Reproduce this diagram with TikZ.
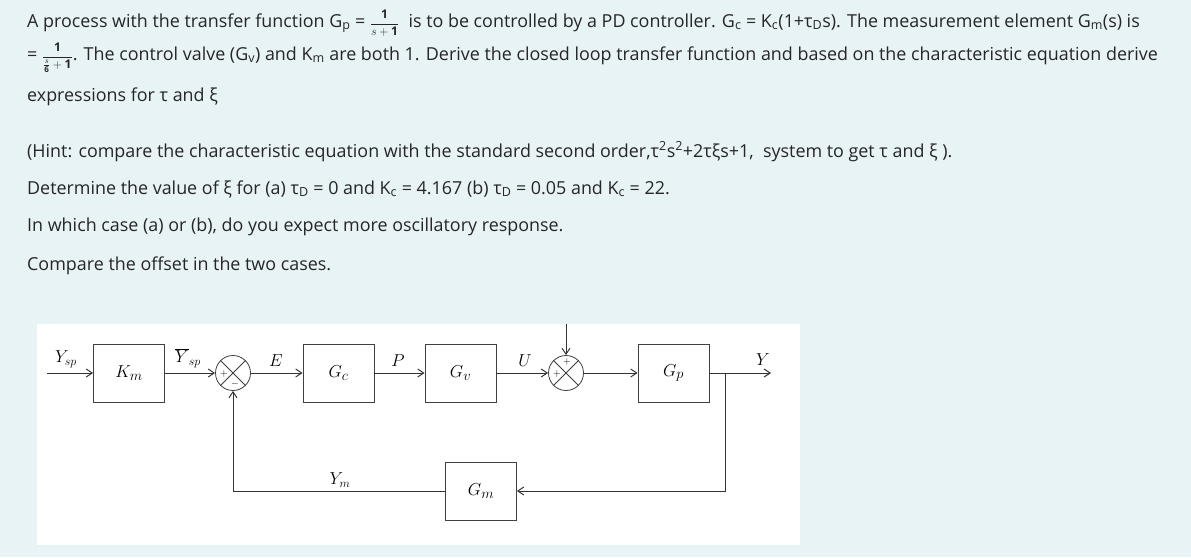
\documentclass[tikz,border=0pt]{standalone}
\usepackage{fontspec}
\setmainfont{Open Sans}
\usetikzlibrary{arrows.meta}
\newcommand{\sbs}[1]{\textsubscript{#1}}
\newcommand{\myfr}[2]{{\fontsize{12}{12}\selectfont$\displaystyle\frac{#1}{#2}$}}
\begin{document}
\begin{tikzpicture}[x=1pt,y=-1pt,
  txt/.style={anchor=base west,inner sep=0,font=\fontsize{17.9}{21}\selectfont,text=black!85},
  blk/.style={draw=black!75,line width=0.8pt,minimum width=71pt,minimum height=58pt,inner sep=0,font=\fontsize{19}{19}\selectfont},
  sumc/.style={draw=black!75,line width=0.8pt,circle,minimum size=35pt,inner sep=0},
  sig/.style={draw=black!80,line width=1pt,-{Straight Barb[length=6pt,width=8pt]}},
  lab/.style={font=\fontsize{18}{18}\selectfont,inner sep=0}]
\fill[fill={rgb,255:red,232;green,243;blue,246}] (0,0) rectangle (1191,557);
\useasboundingbox (0,0) rectangle (1191,557);
\node[txt] (l1) at (27,27) {A process with the transfer function G\sbs{p} = \myfr{\mathbf{1}}{s+\mathbf{1}}\ \ is to be controlled by a PD controller. G\sbs{c} = K\sbs{c}(1+τ\sbs{D}s). The measurement element G\sbs{m}(s) is};
\node[txt] (l2) at (27,60) {= \myfr{\mathbf{1}}{\frac{s}{\mathbf{6}}+\mathbf{1}}. The control valve (G\sbs{v}) and K\sbs{m} are both 1. Derive the closed loop transfer function and based on the characteristic equation derive};
\node[txt] (l3) at (27,101) {expressions for τ and ξ};
\node[txt] (l4) at (27,157) {(Hint: compare the characteristic equation with the standard second order,τ\textsuperscript{2}s\textsuperscript{2}+2τξs+1,\ \ system to get τ and ξ ).};
\node[txt] (l5) at (27,194) {Determine the value of ξ for (a) τ\sbs{D} = 0 and K\sbs{c} = 4.167 (b) τ\sbs{D} = 0.05 and K\sbs{c} = 22.};
\node[txt] (l6) at (27,231) {In which case (a) or (b), do you expect more oscillatory response.};
\node[txt] (l7) at (27,270) {Compare the offset in the two cases.};
\fill[white] (37,324) rectangle (800,545);
\node[blk] (km) at (129,373) {$K_m$};
\node[sumc] (s1) at (233,373) {};
\draw[black!75,line width=0.8pt] (s1.north west)--(s1.south east) (s1.north east)--(s1.south west);
\node[lab,font=\fontsize{10}{10}\selectfont] (s1p) at (224,374) {$+$};
\node[lab,font=\fontsize{10}{10}\selectfont] (s1m) at (235,384) {$-$};
\node[blk] (gc) at (338.5,373) {$G_c$};
\node[blk] (gv) at (460.5,373) {$G_v$};
\node[sumc] (s2) at (566,373) {};
\draw[black!75,line width=0.8pt] (s2.north west)--(s2.south east) (s2.north east)--(s2.south west);
\node[lab,font=\fontsize{10}{10}\selectfont] (s2a) at (567,362) {$+$};
\node[lab,font=\fontsize{10}{10}\selectfont] (s2b) at (557,374) {$+$};
\node[blk] (gp) at (673.5,373) {$G_p$};
\node[blk] (gm) at (481,491) {$G_m$};
\coordinate (in) at (47,373);
\coordinate (out) at (771,373);
\coordinate (br) at (725,373);
\coordinate (dtop) at (566,324);
\draw[sig] (in)--(km.west);
\draw[sig] (km.east)--(s1.west);
\draw[sig] (s1.east)--(gc.west);
\draw[sig] (gc.east)--(gv.west);
\draw[sig] (gv.east)--(s2.west);
\draw[sig] (dtop)--(s2.north);
\draw[sig] (s2.east)--(gp.west);
\draw[sig] (gp.east)--(out);
\draw[sig] (br)|-(gm.east);
\draw[sig] (gm.west)-|(s1.south);
\node[lab] (lysp) at (66,359) {$Y_{sp}$};
\node[lab] (lysb) at (188,358) {$\overline{Y}_{sp}$};
\node[lab] (le) at (276,361) {$E$};
\node[lab] (lp) at (398,361) {$P$};
\node[lab] (lu) at (525,361) {$U$};
\node[lab] (ly) at (763,360) {$Y$};
\node[lab] (lym) at (340,480) {$Y_m$};
\end{tikzpicture}
\end{document}
